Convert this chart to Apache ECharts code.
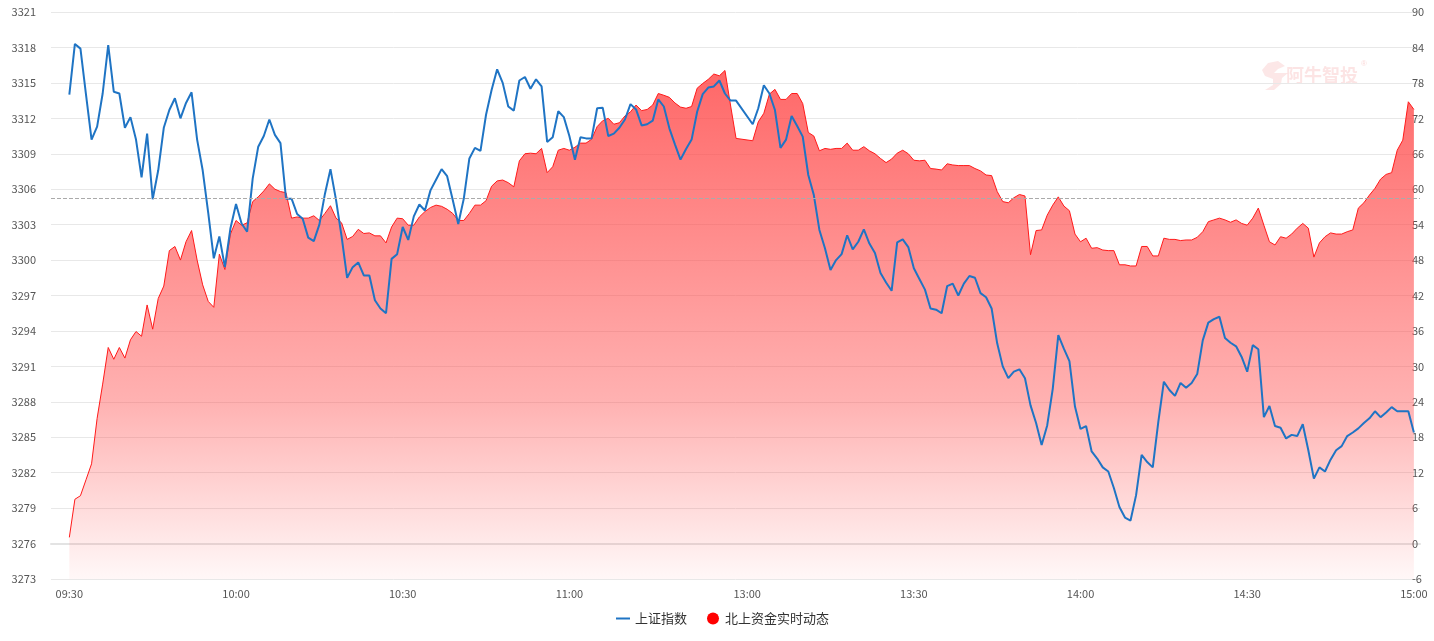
<!DOCTYPE html>
<html>
<head>
<meta charset="utf-8">
<script src="https://cdn.jsdelivr.net/npm/echarts@6/dist/echarts.min.js"></script>
<style>
html,body{margin:0;padding:0;background:#fff;}
#c{width:1434px;height:641px;}
</style>
</head>
<body>
<div id="c"></div>
<script>
// x tick positions (point index) and their labels
var xTickIdx = [0, 30, 60, 90, 122, 152, 182, 212, 242];
var xTickLabels = ['09:30', '10:00', '10:30', '11:00', '13:00', '13:30', '14:00', '14:30', '15:00'];

// 上证指数 (one value per minute point; two nulls over the lunch break)
var shIndex = [
3314.0,3318.3,3317.9,3314.0,3310.2,3311.3,3314.1,3318.2,3314.25,3314.1,
3311.2,3312.1,3310.2,3307.0,3310.7,3305.15,3307.6,3311.2,3312.7,3313.7,
3312.0,3313.3,3314.2,3310.2,3307.6,3304.0,3300.15,3302.0,3299.4,3302.7,
3304.75,3303.1,3302.4,3306.9,3309.6,3310.5,3311.9,3310.6,3309.9,3305.2,
3305.2,3303.9,3303.5,3301.9,3301.6,3303.0,3305.6,3307.7,3305.1,3302.0,
3298.5,3299.4,3299.8,3298.7,3298.7,3296.6,3295.9,3295.5,3300.1,3300.5,
3302.8,3301.7,3303.7,3304.7,3304.2,3305.9,3306.8,3307.7,3307.1,3305.1,
3303.05,3305.2,3308.6,3309.5,3309.25,3312.3,3314.4,3316.15,3315.0,3313.0,
3312.65,3315.2,3315.5,3314.5,3315.3,3314.7,3310.0,3310.4,3312.6,3312.1,
3310.5,3308.5,3310.4,3310.3,3310.3,3312.85,3312.9,3310.5,3310.7,3311.2,
3311.9,3313.2,3312.75,3311.4,3311.5,3311.8,3313.6,3313.0,3311.15,3309.8,
3308.5,3309.4,3310.2,3312.55,3314.05,3314.6,3314.7,3315.2,3314.1,3313.5,
3313.5,null,null,3311.5,3312.85,3314.8,3314.1,3312.7,3309.5,3310.2,
3312.2,3311.35,3310.45,3307.2,3305.5,3302.55,3301.0,3299.15,3300.0,3300.5,
3302.1,3300.9,3301.55,3302.6,3301.4,3300.6,3298.9,3298.1,3297.4,3301.5,
3301.75,3301.1,3299.3,3298.4,3297.5,3295.9,3295.8,3295.5,3297.8,3298.0,
3297.0,3298.0,3298.65,3298.5,3297.2,3296.85,3295.9,3292.95,3291.0,3290.0,
3290.55,3290.75,3290.0,3287.7,3286.2,3284.35,3286.0,3289.1,3293.65,3292.5,
3291.45,3287.6,3285.7,3285.95,3283.8,3283.2,3282.45,3282.1,3280.7,3279.1,
3278.2,3277.95,3280.1,3283.5,3282.9,3282.45,3286.3,3289.7,3289.0,3288.5,
3289.6,3289.2,3289.6,3290.35,3293.2,3294.7,3295.0,3295.2,3293.4,3293.0,
3292.7,3291.8,3290.55,3292.8,3292.45,3286.7,3287.65,3285.95,3285.8,3284.9,
3285.2,3285.1,3286.1,3283.9,3281.5,3282.45,3282.1,3283.1,3283.9,3284.25,
3285.1,3285.4,3285.75,3286.2,3286.6,3287.2,3286.7,3287.1,3287.55,3287.2,
3287.2,3287.2,3285.4
];

// 北上资金实时动态 (亿元)
var northFlow = [
1.05,7.5,8.1,10.8,13.5,21.2,27.0,33.2,31.2,33.2,
31.4,34.5,35.9,35.1,40.4,36.3,41.5,43.6,49.6,50.3,
48.0,51.1,53.0,48.0,43.8,41.0,40.0,49.0,46.4,52.4,
54.7,53.9,54.3,57.9,58.7,59.7,60.9,60.0,59.6,59.4,
55.1,55.3,55.1,55.1,55.5,54.7,55.9,57.2,55.1,54.3,
51.5,52.0,53.2,52.5,52.6,52.1,52.1,50.9,53.6,55.1,
55.0,53.9,53.9,55.3,56.2,56.9,57.3,57.1,56.6,55.9,
54.7,54.7,55.9,57.3,57.3,58.05,60.5,61.4,61.55,61.1,
60.4,64.8,66.0,66.1,66.0,66.9,62.8,63.8,66.6,66.9,
66.6,67.1,67.8,67.8,68.45,70.6,71.6,72.0,71.0,71.25,
72.4,73.1,74.25,73.3,73.5,74.25,76.2,75.9,75.55,74.6,
73.9,73.7,74.0,77.1,77.9,78.6,79.5,79.2,80.1,74.25,
68.6,null,null,68.2,71.4,72.85,76.1,76.9,75.2,75.2,
76.2,76.2,74.5,69.6,69.0,66.5,66.9,66.75,66.9,66.9,
67.8,66.6,66.6,67.2,66.5,66.0,65.2,64.5,65.1,66.1,
66.6,66.0,64.9,64.8,64.9,63.5,63.4,63.25,64.3,64.1,
64.0,64.0,64.0,63.5,63.1,62.4,62.3,59.6,57.9,57.7,
58.55,59.1,58.85,48.9,53.0,53.1,55.6,57.3,58.7,57.15,
56.35,52.4,51.1,51.7,50.0,50.1,49.7,49.6,49.6,47.2,
47.2,47.0,47.0,50.3,50.3,48.7,48.7,51.7,51.5,51.5,
51.3,51.4,51.4,51.85,52.8,54.5,54.8,55.1,54.8,54.4,
54.8,54.2,53.9,55.1,56.8,53.9,51.1,50.55,51.95,51.7,
52.4,53.4,54.2,53.4,48.5,50.9,51.95,52.6,52.4,52.4,
52.8,53.1,56.8,57.7,59.0,60.15,61.7,62.5,62.8,66.6,
68.3,74.8,73.5
];

var prevClose = 3305.25;

var seriesNames = ['上证指数', '北上资金实时动态'];

function pairs(arr) {
  return arr.map(function (v, i) { return [i, v]; });
}

var chart = echarts.init(document.getElementById('c'), null, { renderer: 'canvas' });
var font = '"Noto Sans CJK SC", "Noto Sans", sans-serif';

chart.setOption({
  animation: false,
  backgroundColor: '#fff',
  textStyle: { fontFamily: font },
  grid: { left: 51, right: 14, top: 12, bottom: 62, containLabel: false },
  legend: {
    left: 611,
    top: 607,
    itemWidth: 14,
    itemHeight: 12,
    itemGap: 20,
    symbolKeepAspect: true,
    textStyle: { fontSize: 13, color: '#333', fontFamily: font },
    data: [
      { name: seriesNames[0], icon: 'path://M0,0L14,0L14,2L0,2Z' },
      { name: seriesNames[1], icon: 'circle' }
    ]
  },
  xAxis: {
    type: 'value',
    min: -3.3,
    max: 243.1,
    axisLine: { show: true, lineStyle: { color: '#e3e3e3', width: 2 } },
    axisTick: { show: false },
    splitLine: { show: false },
    axisLabel: {
      customValues: xTickIdx,
      color: '#555',
      fontSize: 11,
      margin: 9,
      formatter: function (v) {
        var k = xTickIdx.indexOf(Math.round(v));
        return k >= 0 ? xTickLabels[k] : '';
      }
    }
  },
  yAxis: [
    {
      type: 'value',
      min: 3273,
      max: 3321,
      interval: 3,
      axisLine: { show: false },
      axisTick: { show: false },
      axisLabel: { color: '#555', fontSize: 11, margin: 15, formatter: function (v) { return String(v); } },
      splitLine: { show: true, lineStyle: { color: '#e8e8e8', width: 1 } }
    },
    {
      type: 'value',
      min: -6,
      max: 90,
      interval: 6,
      position: 'right',
      axisLine: { show: false },
      axisTick: { show: false },
      axisLabel: { color: '#555', fontSize: 11, margin: -8, formatter: function (v) { return String(v); } },
      splitLine: { show: false }
    }
  ],
  series: [
    {
      name: seriesNames[0],
      type: 'line',
      yAxisIndex: 0,
      data: pairs(shIndex),
      showSymbol: false,
      symbol: 'none',
      connectNulls: true,
      z: 4,
      itemStyle: { color: '#1f74c4' },
      lineStyle: { color: '#1f74c4', width: 2 },
      markLine: {
        silent: true,
        symbol: 'none',
        label: { show: false },
        lineStyle: { color: '#aaaaaa', type: 'dashed', width: 1 },
        data: [{ yAxis: prevClose }]
      }
    },
    {
      name: seriesNames[1],
      type: 'line',
      yAxisIndex: 1,
      data: pairs(northFlow),
      showSymbol: false,
      symbol: 'none',
      connectNulls: true,
      z: 2,
      itemStyle: { color: '#ff0000' },
      lineStyle: { color: '#ff1a1a', width: 1 },
      areaStyle: {
        origin: 'start',
        opacity: 1,
        color: {
          type: 'linear', x: 0, y: 0, x2: 0, y2: 1,
          colorStops: [
            { offset: 0, color: 'rgba(255,70,70,0.82)' },
            { offset: 0.65, color: 'rgba(255,70,70,0.42)' },
            { offset: 1, color: 'rgba(255,70,70,0.04)' }
          ]
        }
      }
    }
  ],
  graphic: [
    {
      type: 'group',
      left: 1262,
      top: 60,
      silent: true,
      children: [
        {
          type: 'polygon',
          shape: { points: [[2,10],[8,3],[18,1],[25,6],[18,9],[14,13],[28,13],[22,18],[21,24],[14,30],[5,30],[13,25],[13,19],[5,16]] },
          style: { fill: 'rgba(240,120,120,0.18)' }
        },
        {
          type: 'text',
          x: 26,
          y: 6,
          style: { text: '阿牛智投', font: 'bold 18px "Noto Sans CJK SC"', fill: 'rgba(240,120,120,0.2)' }
        },
        {
          type: 'text',
          x: 101,
          y: 0,
          style: { text: '®', font: '8px sans-serif', fill: 'rgba(240,120,120,0.28)' }
        }
      ]
    }
  ]
});
</script>
</body>
</html>
